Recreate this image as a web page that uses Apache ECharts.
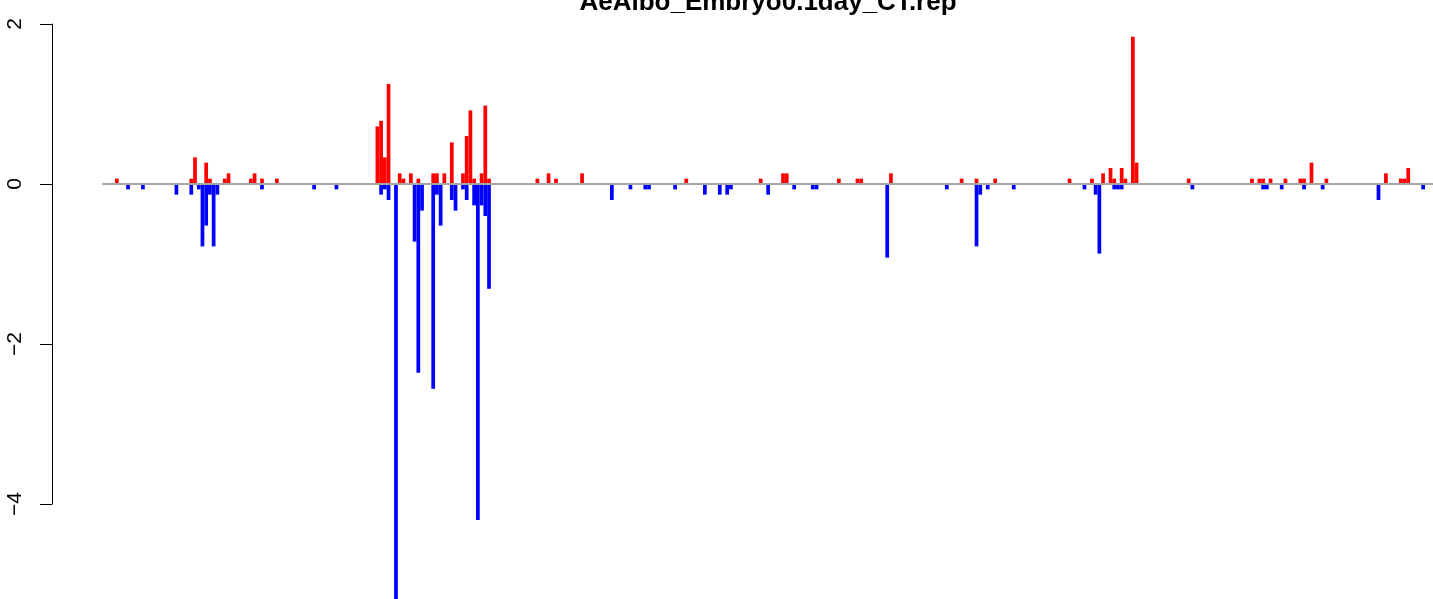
<!DOCTYPE html>
<html>
<head>
<meta charset="utf-8">
<script src="https://cdn.jsdelivr.net/npm/echarts@6/dist/echarts.min.js"></script>
<style>
html,body{margin:0;padding:0;background:#ffffff;}
#chart{width:1433px;height:599px;}
</style>
</head>
<body>
<div id="chart"></div>
<script>
// ---------------- data ----------------
const chartTitle = 'AeAlbo_Embryo0.1day_CT.rep';
const barCount = 352;
const categories = Array.from({length: barCount}, (_, i) => String(i + 1));
const yTickValues = [-4, -2, 0, 2];

// [bar index, value] for the positive (red) bars
const upBars = [
  [0,0.067],[20,0.067],[21,0.333],[24,0.267],[25,0.067],[29,0.067],[30,0.133],
  [36,0.067],[37,0.133],[39,0.067],[43,0.067],
  [70,0.72],[71,0.79],[72,0.333],[73,1.25],[76,0.133],[77,0.067],[79,0.133],
  [81,0.067],[85,0.133],[86,0.133],[88,0.133],[90,0.52],[93,0.133],[94,0.6],
  [95,0.92],[96,0.067],[98,0.133],[99,0.98],[100,0.067],
  [113,0.067],[116,0.133],[118,0.067],[125,0.133],[153,0.067],[173,0.067],
  [179,0.133],[180,0.133],[194,0.067],[199,0.067],[200,0.067],[208,0.133],
  [227,0.067],[231,0.067],[236,0.067],[256,0.067],[262,0.067],[265,0.133],
  [267,0.2],[268,0.067],[270,0.2],[271,0.067],[273,1.84],[274,0.267],[288,0.067],
  [305,0.067],[307,0.067],[308,0.067],[310,0.067],[314,0.067],[318,0.067],
  [319,0.067],[321,0.267],[325,0.067],[341,0.133],[345,0.067],[346,0.067],[347,0.2]
];

// [bar index, value] for the negative (blue) bars
const downBars = [
  [3,-0.067],[7,-0.067],[16,-0.133],[20,-0.133],[22,-0.067],[23,-0.78],[24,-0.52],
  [25,-0.133],[26,-0.78],[27,-0.133],[39,-0.067],[53,-0.067],[59,-0.067],
  [71,-0.133],[72,-0.067],[73,-0.2],[75,-5.2],[80,-0.72],[81,-2.36],[82,-0.333],
  [85,-2.56],[86,-0.133],[87,-0.52],[90,-0.2],[91,-0.333],[93,-0.067],[94,-0.2],
  [96,-0.267],[97,-4.2],[98,-0.267],[99,-0.4],[100,-1.31],
  [133,-0.2],[138,-0.067],[142,-0.067],[143,-0.067],[150,-0.067],[158,-0.133],
  [162,-0.133],[164,-0.133],[165,-0.067],[175,-0.133],[182,-0.067],[187,-0.067],
  [188,-0.067],[207,-0.92],[223,-0.067],[231,-0.78],[232,-0.133],[234,-0.067],
  [241,-0.067],[260,-0.067],[263,-0.133],[264,-0.87],[268,-0.067],[269,-0.067],
  [270,-0.067],[289,-0.067],[308,-0.067],[309,-0.067],[313,-0.067],[319,-0.067],
  [324,-0.067],[339,-0.2],[351,-0.067]
];

// ---------------- chart ----------------
const FONT = '"Liberation Sans", Arial, Helvetica, sans-serif';
const yMin = yTickValues[0], yMax = yTickValues[yTickValues.length - 1];
const chart = echarts.init(document.getElementById('chart'), null, {renderer: 'canvas'});

chart.setOption({
  animation: false,
  backgroundColor: '#ffffff',
  graphic: [{
    type: 'text',
    x: 768,
    y: -10,
    style: {
      text: chartTitle,
      font: 'bold 26px ' + FONT,
      fill: '#000000',
      textAlign: 'center',
      textVerticalAlign: 'top'
    }
  }],
  grid: [
    {left: 103, right: 0, top: 24, height: 480},
    {left: 115, width: 1310, top: 24, height: 480}
  ],
  xAxis: [
    {
      gridIndex: 0, type: 'value', min: 0, max: 1, z: 10,
      axisLine: {show: true, onZero: true, lineStyle: {color: '#A6A6A6', width: 2}},
      axisTick: {show: false}, axisLabel: {show: false}, splitLine: {show: false}
    },
    {
      gridIndex: 1, type: 'category', data: categories, show: false,
      boundaryGap: true
    }
  ],
  yAxis: [
    {
      gridIndex: 0, type: 'value', min: yMin, max: yMax, interval: 2,
      position: 'left', offset: 51,
      axisLine: {show: true, onZero: false, lineStyle: {color: '#000000', width: 1}},
      axisTick: {show: true, length: 12, lineStyle: {color: '#000000', width: 1}},
      splitLine: {show: false},
      axisLabel: {
        rotate: 90, margin: 26, fontSize: 21, color: '#000000', fontFamily: FONT,
        formatter: v => String(v).replace('-', '\u2212')
      }
    },
    {gridIndex: 1, type: 'value', min: yMin, max: yMax, show: false}
  ],
  series: [
    {
      name: 'up', type: 'bar', xAxisIndex: 1, yAxisIndex: 1,
      data: upBars, itemStyle: {color: '#FF0000'},
      barCategoryGap: '0%', barGap: '-100%', clip: false
    },
    {
      name: 'down', type: 'bar', xAxisIndex: 1, yAxisIndex: 1,
      data: downBars, itemStyle: {color: '#0000FF'},
      barCategoryGap: '0%', barGap: '-100%', clip: false
    }
  ]
});
</script>
</body>
</html>
